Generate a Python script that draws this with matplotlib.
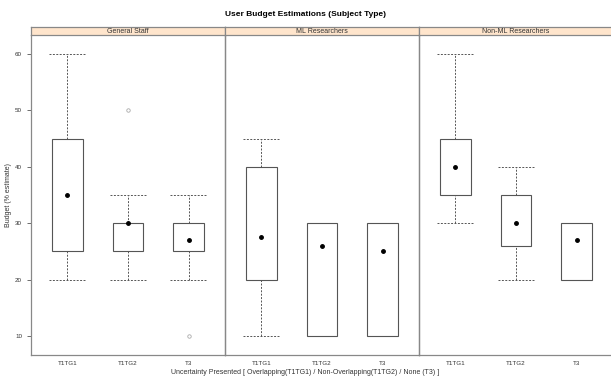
import matplotlib.pyplot as plt
from matplotlib.patches import Rectangle

# Data
panels = ["General Staff", "ML Researchers", "Non-ML Researchers"]
groups = ["T1TG1", "T1TG2", "T3"]

# per panel, per group: lower whisker, box low, median, box high, upper whisker
whisk_lo = [[20, 20, 20], [10, 10, 10], [30, 20, 20]]
box_lo = [[25, 25, 25], [20, 10, 10], [35, 26, 20]]
medians = [[35, 30, 27], [27.5, 26, 25], [40, 30, 27]]
box_hi = [[45, 30, 30], [40, 30, 30], [45, 35, 30]]
whisk_hi = [[60, 35, 35], [45, 30, 30], [60, 40, 30]]
outliers = [[[], [50], [10]], [[], [], []], [[], [], []]]

W, H = 611, 378
fig = plt.figure(figsize=(W / 100, H / 100), dpi=100)
plt.rcParams["font.family"] = ["Liberation Sans", "DejaVu Sans"]

left_px, panel_w = 31, 194
top_px, bot_px, strip_top = 35, 355, 27
line_col = "#555555"

axes = []
for p, name in enumerate(panels):
    x0 = (left_px + p * panel_w) / W
    ax = fig.add_axes([x0, 1 - bot_px / H, panel_w / W, (bot_px - top_px) / H])
    ax.patch.set_alpha(0)
    ax.set_xlim(0.4, 3.6)
    ax.set_ylim(6.6, 63.4)
    for s in ax.spines.values():
        s.set_color("#888888")
        s.set_linewidth(0.9)
    ax.spines["top"].set_visible(False)
    ax.set_xticks(range(1, 4))
    ax.set_xticklabels(groups)
    ax.tick_params(axis="x", length=0, labelsize=4.5, pad=4, colors="#333333")
    if p == 0:
        ax.set_yticks([10, 20, 30, 40, 50, 60])
        ax.tick_params(axis="y", length=3, labelsize=4.5, colors="#333333", width=0.5)
        ax.set_ylabel("Budget (% estimate)", fontsize=5, color="#333333", labelpad=2)
    else:
        ax.set_yticks([])

    for g in range(3):
        x = g + 1
        hw = 0.25
        lo, q1, med, q3, hi = whisk_lo[p][g], box_lo[p][g], medians[p][g], box_hi[p][g], whisk_hi[p][g]
        ax.add_patch(Rectangle((x - hw, q1), 2 * hw, q3 - q1, fill=False,
                               edgecolor=line_col, linewidth=0.8))
        if hi > q3:
            ax.plot([x, x], [q3, hi], color="#555555", lw=0.7, ls=(0, (2, 1.5)))
            ax.plot([x - 0.3, x + 0.3], [hi, hi], color="#555555", lw=0.7, ls=(0, (2, 1.5)))
        if lo < q1:
            ax.plot([x, x], [lo, q1], color="#555555", lw=0.7, ls=(0, (2, 1.5)))
            ax.plot([x - 0.3, x + 0.3], [lo, lo], color="#555555", lw=0.7, ls=(0, (2, 1.5)))
        ax.plot(x, med, "o", color="black", ms=2.5)
        for o in outliers[p][g]:
            ax.plot(x, o, "o", mfc="none", mec="#aaaaaa", ms=2.5, mew=0.6)

    # strip
    sax = fig.add_axes([x0, 1 - top_px / H, panel_w / W, (top_px - strip_top) / H])
    sax.set_facecolor("#ffe5cc")
    sax.set_xticks([])
    sax.set_yticks([])
    for s in sax.spines.values():
        s.set_color("#888888")
        s.set_linewidth(0.9)
    sax.text(0.5, 0.45, name, ha="center", va="center", fontsize=5, color="#333333",
             transform=sax.transAxes)
    axes.append(ax)

fig.text(0.5, 1 - 14 / H, "User Budget Estimations (Subject Type)", ha="center",
         va="center", fontsize=6, fontweight="bold")
fig.text(0.5, 1 - 372 / H,
         "Uncertainty Presented [ Overlapping(T1TG1) / Non-Overlapping(T1TG2) / None (T3) ]",
         ha="center", va="center", fontsize=5, color="#333333")

fig.savefig("out.png", dpi=100)
